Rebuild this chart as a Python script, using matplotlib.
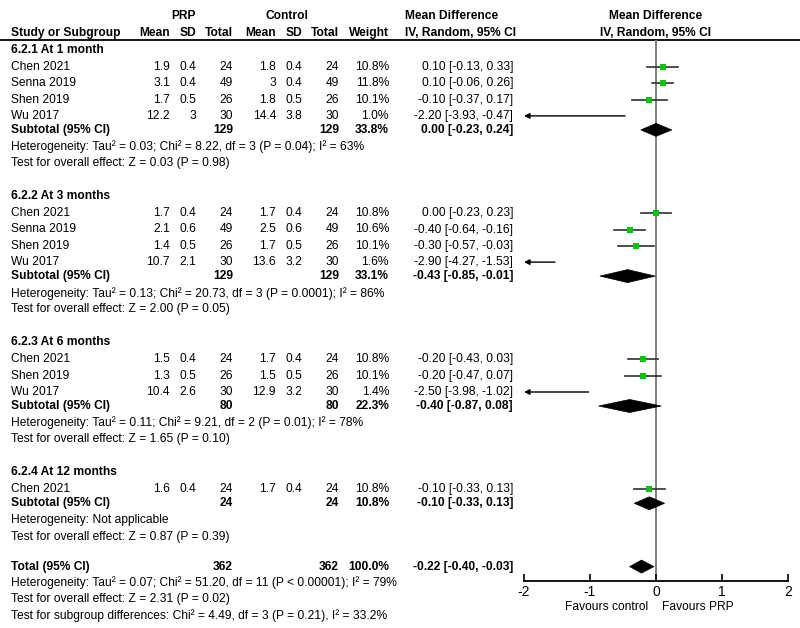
import matplotlib
matplotlib.use("Agg")
import matplotlib.pyplot as plt
from matplotlib.patches import Polygon

plt.rcParams['font.family'] = ['Liberation Sans', 'DejaVu Sans']

# ---------------- data ----------------
group_titles = ["6.2.1 At 1 month", "6.2.2 At 3 months", "6.2.3 At 6 months", "6.2.4 At 12 months"]

g1_studies = ["Chen 2021", "Senna 2019", "Shen 2019", "Wu 2017"]
g1_prp_mean = [1.9, 3.1, 1.7, 12.2]
g1_prp_sd = [0.4, 0.4, 0.5, 3]
g1_prp_n = [24, 49, 26, 30]
g1_ctl_mean = [1.8, 3, 1.8, 14.4]
g1_ctl_sd = [0.4, 0.4, 0.5, 3.8]
g1_ctl_n = [24, 49, 26, 30]
g1_weight = [10.8, 11.8, 10.1, 1.0]
g1_md = [0.10, 0.10, -0.10, -2.20]
g1_lo = [-0.13, -0.06, -0.37, -3.93]
g1_hi = [0.33, 0.26, 0.17, -0.47]

g2_studies = ["Chen 2021", "Senna 2019", "Shen 2019", "Wu 2017"]
g2_prp_mean = [1.7, 2.1, 1.4, 10.7]
g2_prp_sd = [0.4, 0.6, 0.5, 2.1]
g2_prp_n = [24, 49, 26, 30]
g2_ctl_mean = [1.7, 2.5, 1.7, 13.6]
g2_ctl_sd = [0.4, 0.6, 0.5, 3.2]
g2_ctl_n = [24, 49, 26, 30]
g2_weight = [10.8, 10.6, 10.1, 1.6]
g2_md = [0.00, -0.40, -0.30, -2.90]
g2_lo = [-0.23, -0.64, -0.57, -4.27]
g2_hi = [0.23, -0.16, -0.03, -1.53]

g3_studies = ["Chen 2021", "Shen 2019", "Wu 2017"]
g3_prp_mean = [1.5, 1.3, 10.4]
g3_prp_sd = [0.4, 0.5, 2.6]
g3_prp_n = [24, 26, 30]
g3_ctl_mean = [1.7, 1.5, 12.9]
g3_ctl_sd = [0.4, 0.5, 3.2]
g3_ctl_n = [24, 26, 30]
g3_weight = [10.8, 10.1, 1.4]
g3_md = [-0.20, -0.20, -2.50]
g3_lo = [-0.43, -0.47, -3.98]
g3_hi = [0.03, 0.07, -1.02]

g4_studies = ["Chen 2021"]
g4_prp_mean = [1.6]
g4_prp_sd = [0.4]
g4_prp_n = [24]
g4_ctl_mean = [1.7]
g4_ctl_sd = [0.4]
g4_ctl_n = [24]
g4_weight = [10.8]
g4_md = [-0.10]
g4_lo = [-0.33]
g4_hi = [0.13]

sub_prp_n = [129, 129, 80, 24]
sub_ctl_n = [129, 129, 80, 24]
sub_weight = [33.8, 33.1, 22.3, 10.8]
sub_md = [0.00, -0.43, -0.40, -0.10]
sub_lo = [-0.23, -0.85, -0.87, -0.33]
sub_hi = [0.24, -0.01, 0.08, 0.13]
sub_het = ["Heterogeneity: Tau² = 0.03; Chi² = 8.22, df = 3 (P = 0.04); I² = 63%",
           "Heterogeneity: Tau² = 0.13; Chi² = 20.73, df = 3 (P = 0.0001); I² = 86%",
           "Heterogeneity: Tau² = 0.11; Chi² = 9.21, df = 2 (P = 0.01); I² = 78%",
           "Heterogeneity: Not applicable"]
sub_test = ["Test for overall effect: Z = 0.03 (P = 0.98)",
            "Test for overall effect: Z = 2.00 (P = 0.05)",
            "Test for overall effect: Z = 1.65 (P = 0.10)",
            "Test for overall effect: Z = 0.87 (P = 0.39)"]

total_prp_n = 362
total_ctl_n = 362
total_weight = 100.0
total_md = -0.22
total_lo = -0.40
total_hi = -0.03
total_lines = ["Heterogeneity: Tau² = 0.07; Chi² = 51.20, df = 11 (P < 0.00001); I² = 79%",
               "Test for overall effect: Z = 2.31 (P = 0.02)",
               "Test for subgroup differences: Chi² = 4.49, df = 3 (P = 0.21), I² = 33.2%"]

x_ticks = [-2, -1, 0, 1, 2]
favours_left = "Favours control"
favours_right = "Favours PRP"

groups = [
    (g1_studies, g1_prp_mean, g1_prp_sd, g1_prp_n, g1_ctl_mean, g1_ctl_sd, g1_ctl_n, g1_weight, g1_md, g1_lo, g1_hi),
    (g2_studies, g2_prp_mean, g2_prp_sd, g2_prp_n, g2_ctl_mean, g2_ctl_sd, g2_ctl_n, g2_weight, g2_md, g2_lo, g2_hi),
    (g3_studies, g3_prp_mean, g3_prp_sd, g3_prp_n, g3_ctl_mean, g3_ctl_sd, g3_ctl_n, g3_weight, g3_md, g3_lo, g3_hi),
    (g4_studies, g4_prp_mean, g4_prp_sd, g4_prp_n, g4_ctl_mean, g4_ctl_sd, g4_ctl_n, g4_weight, g4_md, g4_lo, g4_hi),
]

# ---------------- layout ----------------
W, H = 800, 628
FS = 8.65
fig = plt.figure(figsize=(W / 100, H / 100), dpi=100)
ax_t = fig.add_axes([0, 0, 1, 1])
ax_t.set_xlim(0, W)
ax_t.set_ylim(H, 0)
ax_t.axis('off')

AX_Y = 581      # pixel row of the x axis
TOP_Y = 40      # header line
X_LEFT, X_RIGHT = 524, 788
ax_f = fig.add_axes([X_LEFT / W, (H - AX_Y) / H, (X_RIGHT - X_LEFT) / W, (AX_Y - TOP_Y) / H])
ax_f.set_xlim(x_ticks[0], x_ticks[-1])
ax_f.set_ylim(AX_Y, TOP_Y)
ax_f.patch.set_alpha(0)
for s in ['top', 'left', 'right']:
    ax_f.spines[s].set_visible(False)
ax_f.spines['bottom'].set_linewidth(1.3)
ax_f.set_xticks(x_ticks)
ax_f.set_xticklabels([f"{t:g}" for t in x_ticks])
ax_f.tick_params(axis='x', direction='in', length=5, width=1.2, labelsize=10, pad=3)
ax_f.set_yticks([])
ax_f.axvline(0, color='#808080', lw=1.4, zorder=1)

COL = dict(pm=170, ps=196, pn=233, cm=276, cs=302, cn=339, w=389, ci=513)
LX = 11


def txt(x, y, s, ha='left', bold=False, size=FS):
    ax_t.text(x, y, s, ha=ha, va='center', fontsize=size,
              fontweight='bold' if bold else 'normal', color='black')


def fmt_ci(m, l, h):
    return f"{m:.2f} [{l:.2f}, {h:.2f}]"


# headers
txt(183, 16, "PRP", ha='center', bold=True)
txt(287, 16, "Control", ha='center', bold=True)
txt(405, 16, "Mean Difference", bold=True)
txt(405, 33, "IV, Random, 95% CI", bold=True)
txt(656, 16, "Mean Difference", ha='center', bold=True)
txt(656, 33, "IV, Random, 95% CI", ha='center', bold=True)
txt(LX, 33, "Study or Subgroup", bold=True)
for key, lab in [('pm', 'Mean'), ('ps', 'SD'), ('pn', 'Total'), ('cm', 'Mean'),
                 ('cs', 'SD'), ('cn', 'Total'), ('w', 'Weight')]:
    txt(COL[key], 33, lab, ha='right', bold=True)
ax_t.plot([0, W], [TOP_Y, TOP_Y], color='black', lw=1.3)

HALF = 6.5


def diamond(y, m, l, h):
    ax_f.add_patch(Polygon([(l, y), (m, y - HALF), (h, y), (m, y + HALF)],
                           closed=True, facecolor='black', edgecolor='black', lw=0.5, zorder=3))


y = 50.0
for gi, g in enumerate(groups):
    studies, pm, ps, pn, cm, cs, cn, wt, md, lo, hi = g
    txt(LX, y, group_titles[gi], bold=True)
    y += 17
    for i in range(len(studies)):
        txt(LX, y, studies[i])
        txt(COL['pm'], y, f"{pm[i]:g}", ha='right')
        txt(COL['ps'], y, f"{ps[i]:g}", ha='right')
        txt(COL['pn'], y, f"{pn[i]:g}", ha='right')
        txt(COL['cm'], y, f"{cm[i]:g}", ha='right')
        txt(COL['cs'], y, f"{cs[i]:g}", ha='right')
        txt(COL['cn'], y, f"{cn[i]:g}", ha='right')
        txt(COL['w'], y, f"{wt[i]:.1f}%", ha='right')
        txt(COL['ci'], y, fmt_ci(md[i], lo[i], hi[i]), ha='right')
        xmin = x_ticks[0]
        if lo[i] < xmin:
            ax_f.annotate('', xy=(xmin, y), xytext=(hi[i], y),
                          arrowprops=dict(arrowstyle='-|>', color='black', lw=1.0,
                                          mutation_scale=8, shrinkA=0, shrinkB=0),
                          annotation_clip=False)
        else:
            ax_f.plot([lo[i], hi[i]], [y, y], color='#303030', lw=1.2, zorder=2)
            ax_f.plot([md[i]], [y], marker='s', color='#00c800', markersize=3.8,
                      markeredgewidth=0, zorder=4)
        if i < len(studies) - 1:
            y += 16.3
    y += 14
    txt(LX, y, "Subtotal (95% CI)", bold=True)
    txt(COL['pn'], y, f"{sub_prp_n[gi]}", ha='right', bold=True)
    txt(COL['cn'], y, f"{sub_ctl_n[gi]}", ha='right', bold=True)
    txt(COL['w'], y, f"{sub_weight[gi]:.1f}%", ha='right', bold=True)
    txt(COL['ci'], y, fmt_ci(sub_md[gi], sub_lo[gi], sub_hi[gi]), ha='right', bold=True)
    diamond(y, sub_md[gi], sub_lo[gi], sub_hi[gi])
    y += 17
    txt(LX, y, sub_het[gi])
    y += 16.3
    txt(LX, y, sub_test[gi])
    if gi < len(groups) - 1:
        y += 33

y += 30
txt(LX, y, "Total (95% CI)", bold=True)
txt(COL['pn'], y, f"{total_prp_n}", ha='right', bold=True)
txt(COL['cn'], y, f"{total_ctl_n}", ha='right', bold=True)
txt(COL['w'], y, f"{total_weight:.1f}%", ha='right', bold=True)
txt(COL['ci'], y, fmt_ci(total_md, total_lo, total_hi), ha='right', bold=True)
diamond(y, total_md, total_lo, total_hi)
for line in total_lines:
    y += 16.2
    txt(LX, y, line)

txt(648, 607, favours_left, ha='right')
txt(662, 607, favours_right, ha='left')

fig.savefig("out.png", dpi=100)
